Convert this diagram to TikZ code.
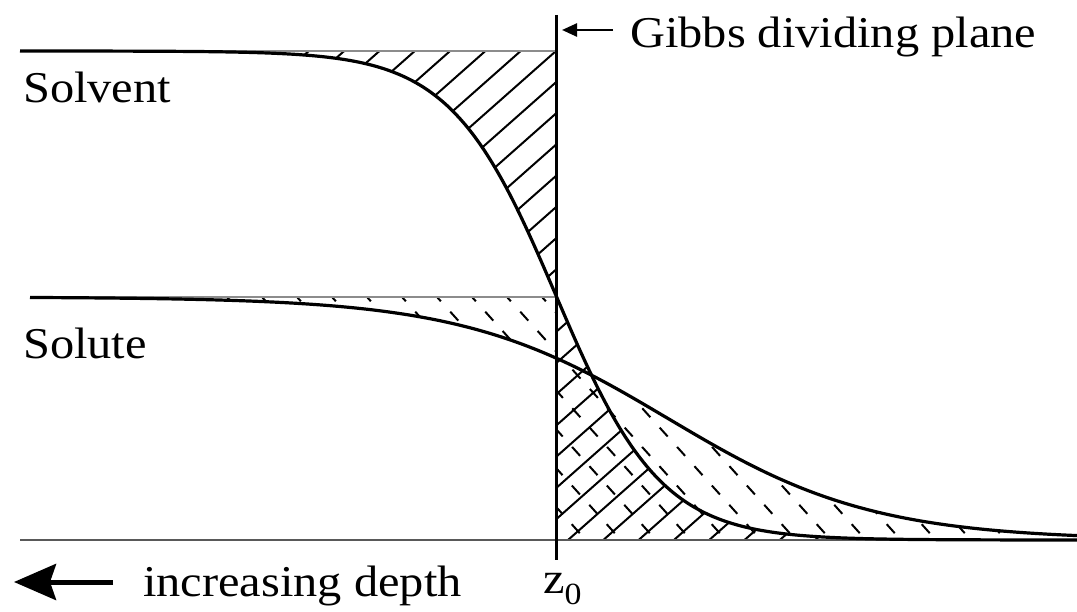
\documentclass[tikz,border=0pt]{standalone}
\usepackage{fontspec}
\setmainfont{Liberation Serif}[FakeStretch=1.1]
\usetikzlibrary{arrows.meta}

\begin{document}
\begin{tikzpicture}[x=1pt, y=-1pt,
    declare function={solv(\x)=51+244.5*(1+tanh((\x-556)/105));
                      solu(\x)=297+121.5*(1+tanh((\x-668)/205));},
    curve/.style={line width=3.2pt, line join=round},
    guide/.style={draw=black!45, line width=2pt},
    baseln/.style={draw=black!65, line width=2.2pt},
    hatch/.style={line width=2pt},
    dhatch/.style={line width=2pt, dash pattern=on 12pt off 14pt},
    lbl/.style={anchor=base west, inner sep=0pt, font=\fontsize{44}{50}\selectfont},
    gibbsarrow/.style={line width=2.5pt, -{Triangle[length=15pt,width=13pt]}},
    deptharrow/.style={line width=5pt, -{Stealth[length=42pt,width=36pt,inset=6pt]}}
]
\useasboundingbox (0,0) rectangle (1077,612);

% solvent hatching, left of the plane
\begin{scope}
  \clip plot[domain=150:556, samples=60] (\x,{solv(\x)}) -- (556,51) -- cycle;
  \foreach \k in {-10,...,9}
    \draw[hatch] ({556+35.3*\k-650},{51+575}) -- ({556+35.3*\k+650},{51-575});
\end{scope}
% solvent hatching, right of the plane
\begin{scope}
  \clip plot[domain=556:1077, samples=80] (\x,{solv(\x)}) -- (1077,540) -- (556,540) -- cycle;
  \foreach \k in {7,...,26}
    \draw[hatch] ({556+35.3*\k-650},{51+575}) -- ({556+35.3*\k+650},{51-575});
\end{scope}
% solute hatching, left of the plane
\begin{scope}
  \clip plot[domain=30:556, samples=60] (\x,{solu(\x)}) -- (556,297) -- cycle;
  \foreach \k in {-10,...,1}
    \draw[dhatch] ({542+35*\k-300},{297-333}) -- ({542+35*\k+400},{297+444});
\end{scope}
% solute hatching, right of the plane
\begin{scope}
  \clip plot[domain=556:1077, samples=80] (\x,{solu(\x)}) -- (1077,540) -- (556,540) -- cycle;
  \foreach \k in {-8,...,15}
    \draw[dhatch] ({542+35*\k-300},{297-333}) -- ({542+35*\k+400},{297+444});
\end{scope}

% reference levels and axis
\draw[guide] (20,51) -- (556,51);
\draw[guide] (30,297) -- (556,297);
\draw[baseln] (20,540) -- (1077,540);

% profiles
\draw[curve] plot[domain=20:1077, samples=160, smooth] (\x,{solv(\x)});
\draw[curve] plot[domain=30:1077, samples=160, smooth] (\x,{solu(\x)});

% dividing plane
\coordinate (ptop) at (556,15);
\coordinate (pbot) at (556,560);
\draw[line width=3pt] (ptop) -- (pbot);

% labels
\node[lbl] (solvent) at (23,103) {Solvent};
\node[lbl] (solute) at (23,359) {Solute};
\node[lbl] (gibbs) at (630,48) {Gibbs dividing plane};
\node[lbl] (depth) at (143,596) {increasing depth};
\node[lbl] (zzero) at (543,593) {z\textsubscript{0}};

\coordinate (gtail) at (613,30);
\coordinate (gtip) at (562,30);
\draw[gibbsarrow] (gtail) -- (gtip);
\coordinate (dtail) at (113,582);
\coordinate (dtip) at (14,582);
\draw[deptharrow] (dtail) -- (dtip);
\end{tikzpicture}
\end{document}
